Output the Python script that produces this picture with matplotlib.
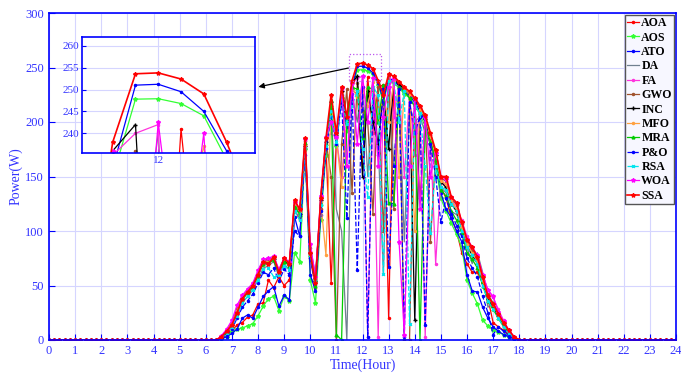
import numpy as np
import matplotlib
matplotlib.use("Agg")
import matplotlib.pyplot as plt
from matplotlib.patches import Rectangle

plt.rcParams['font.family'] = ['Liberation Serif', 'DejaVu Serif']

# time grid (hours), 0.2 h step; active window 6.4 .. 18.2 h
hours = np.round(np.arange(121) * 0.2, 1)
pad_before = 32   # 0.0 .. 6.2 h -> 0 W
pad_after = 29    # 18.4 .. 24.0 h -> 0 W

AOA = [0,1,4,8,14,16,21,23,33,34,55,48,58,50,55,120,110,180,75,48,120,180,52,185,228,
       200,230,225,160,241,190,232,234,20,240,235,230,226,220,213,204,188,170,140,130,
       112,100,80,70,62,62,52,38,16,12,9,5,2,0,0]
AOS = [0,1,3,8,10,11,13,15,22,31,38,40,27,40,36,80,72,175,55,34,110,170,212,178,222,
       192,230,247.8,247.9,246.8,244,234,218,238,236,231,226,222,215,207,196,180,160,130,118,
       107,97,85,55,43,33,18,13,9,7,5,3,1,0,0]
ATO = [0,1,3,6,10,20,23,20,30,40,45,49,31,41,37,113,95,178,60,45,115,175,215,180,225,
       195,232,251,251.2,249.5,245,236,220,240,238,233,228,224,218,210,200,185,165,135,120,
       112,100,90,60,45,44,30,20,12,8,5,3,1,0,0]
DA = [0,2,6,12,22,34,40,46,55,66,68,72,58,70,64,118,112,175,85,60,125,180,210,120,100,
      0,225,200,240,150,225,180,60,235,160,230,90,215,200,205,190,180,165,140,135,
      118,115,105,85,70,80,62,30,35,20,12,6,2,0,0]
FA = [0,3,8,15,28,40,45,49,60,72,73,75,63,74,70,126,118,180,82,55,128,184,190,185,150,
      200,235,240,242,3,230,3,230,240,205,236,150,225,170,214,3,188,70,148,140,
      130,120,110,95,84,76,60,46,39,28,18,9,3,0,0]
GWO = [0,3,9,16,29,40,46,51,63,73,74,76,64,75,71,127,119,183,84,56,130,183,150,0,180,
       230,135,236,210,200,116,232,100,243,120,236,0,0,220,130,200,90,170,148,146,
       130,124,106,90,82,74,55,42,34,25,16,8,3,0,0]
INC = [0,2,7,14,26,38,44,49,60,70,72,74,62,73,69,124,116,178,80,54,128,182,218,188,228,
       202,236,242,150,228,200,180,230,175,238,235,230,226,18,212,203,185,170,145,140,
       125,118,102,86,78,70,52,38,30,22,14,7,2,0,0]
MFO = [0,3,8,15,27,39,45,50,61,71,72,75,63,74,70,125,117,179,82,56,127,78,215,185,140,
       200,232,223,230,215,237,202,225,200,238,150,230,226,100,212,204,186,168,146,143,
       128,120,104,88,80,72,54,40,32,23,15,8,2,0,0]
MRA = [0,2,7,13,25,37,43,48,59,70,71,73,61,72,68,122,115,181,78,50,125,180,220,5,0,
       200,232,230,185,232,230,200,234,126,125,232,228,222,214,0,196,182,165,138,132,
       118,110,98,80,74,66,50,36,28,20,13,6,2,0,0]
PO = [0,2,5,10,20,30,36,42,52,62,60,66,54,65,60,100,95,170,75,52,118,176,205,180,220,
      112,226,64,232,3,225,170,230,67,160,230,3,218,190,205,14,180,150,108,130,
      116,105,95,75,66,58,40,25,5,12,8,4,1,0,0]
RSA = [0,2,6,12,22,34,40,46,55,65,66,58,60,68,64,118,110,176,78,54,124,178,210,182,225,
       198,215,228,175,131,232,225,61,238,236,200,228,15,215,208,160,98,160,140,138,
       125,118,100,85,78,70,50,36,28,20,12,6,2,0,0]
WOA = [0,4,10,18,32,41,47,52,64,74,75,77,65,75,72,127,120,184,88,58,132,186,200,186,231,
       160,236,180,242.5,200,240,160,205,232,240,90,5,160,221,120,205,150,172,150,148,
       131,126,108,93,85,78,60,46,40,26,17,9,3,0,0]
SSA = [0,3,8,14,25,38,44,50,60,72,70,76,62,75,70,128,120,185,80,52,130,185,225,190,232,
       205,238,253.6,253.8,252.4,249,238,225,244,242,237,232,228,222,215,206,190,174,150,150,
       131,126,108,92,85,76,58,40,33,24,16,9,3,0,0]

names = ['AOA', 'AOS', 'ATO', 'DA', 'FA', 'GWO', 'INC', 'MFO', 'MRA', 'P&O', 'RSA', 'WOA', 'SSA']
series = [AOA, AOS, ATO, DA, FA, GWO, INC, MFO, MRA, PO, RSA, WOA, SSA]
styles = [
    dict(color='#ff0000', ls='-', marker='.', ms=3),
    dict(color='#33ff33', ls='-', marker='*', ms=3),
    dict(color='#0000ff', ls='-', marker='.', ms=3),
    dict(color='#708090', ls='-', marker='', ms=2),
    dict(color='#ff33dd', ls='-', marker='.', ms=3),
    dict(color='#a0522d', ls='-', marker='.', ms=3),
    dict(color='#000000', ls='-', marker='+', ms=3),
    dict(color='#ffa040', ls='-', marker='.', ms=3),
    dict(color='#00cc00', ls='-', marker='^', ms=2),
    dict(color='#0000ff', ls='--', marker='.', ms=3),
    dict(color='#00e5ee', ls='--', marker='x', ms=2),
    dict(color='#ff00ff', ls='-', marker='*', ms=3),
    dict(color='#ff0000', ls='-', marker='*', ms=3),
]

def full(s):
    return np.r_[np.zeros(pad_before), np.array(s, float), np.zeros(pad_after)]

fig = plt.figure(figsize=(6.81, 3.76), dpi=100)
ax = fig.add_axes([49/681, 1-340/376, 627/681, 327/376])

for name, s, st in zip(names, series, styles):
    lw = 1.2 if name == 'SSA' else 0.9
    ax.plot(hours, full(s), label=name, lw=lw, **st)

ax.set_xlim(0, 24)
ax.set_ylim(0, 300)
ax.set_xticks(range(0, 25))
ax.set_yticks(range(0, 301, 50))
ax.grid(True, color='#d5d5ff', lw=0.8)
ax.set_axisbelow(True)
for sp in ax.spines.values():
    sp.set_color('#0000ff')
    sp.set_linewidth(1.2)
ax.tick_params(direction='in', colors='#0000ff', labelsize=9, length=4,
               labelcolor='#3333ff')
ax.set_xlabel('Time(Hour)', color='#3333ff', fontsize=10, labelpad=1)
ax.set_ylabel('Power(W)', color='#3333ff', fontsize=10, labelpad=2)

leg = ax.legend(loc='upper right', prop={'weight': 'bold', 'size': 8.6},
                handlelength=1.0, handletextpad=0.2, labelspacing=0.2,
                borderpad=0.2, borderaxespad=0.15, frameon=True, fancybox=False)
leg.get_frame().set_edgecolor('#555555')
leg.get_frame().set_facecolor('#f7f7ff')
leg.get_frame().set_alpha(1)

# inset
ins = fig.add_axes([82/681, 1-153/376, 173/681, 116/376])
for name, s, st in zip(names, series, styles):
    lw = 1.2 if name == 'SSA' else 0.9
    ins.plot(hours, full(s), lw=lw, **st)
ix0, ix1, iy0, iy1 = 11.33, 12.85, 235.5, 262
ins.set_xlim(ix0, ix1)
ins.set_ylim(iy0, iy1)
ins.set_xticks([12])
ins.set_yticks([240, 245, 250, 255, 260])
ins.grid(True, color='#d5d5ff', lw=0.8)
for sp in ins.spines.values():
    sp.set_color('#0000ff')
    sp.set_linewidth(1.2)
ins.tick_params(direction='in', colors='#0000ff', labelsize=8, length=3,
                labelcolor='#3333ff', pad=2)

ax.add_patch(Rectangle((11.48, 237.6), 1.22, 24.4, fill=False, ls=':',
                       ec='#bb55ee', lw=0.9, zorder=5))
ax.annotate('', xy=(1.02, 0.57), xycoords=ins.transAxes,
            xytext=(11.46, 249.5), textcoords='data',
            arrowprops=dict(arrowstyle='-|>', color='black', lw=0.9,
                            mutation_scale=8, shrinkA=0, shrinkB=0))

fig.savefig('out.png', dpi=100)
